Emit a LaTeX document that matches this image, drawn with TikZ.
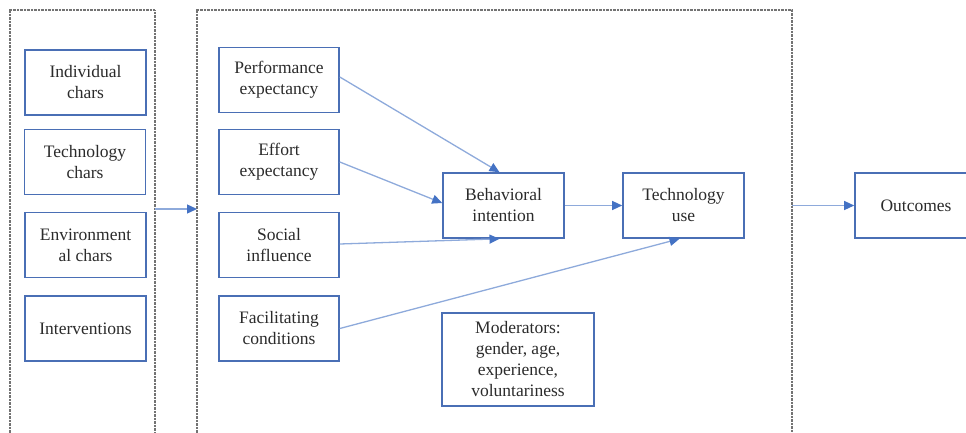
\documentclass[tikz,border=0pt]{standalone}
\usepackage{fontspec}
\setmainfont{Liberation Serif}
\usetikzlibrary{arrows.meta}
\definecolor{boxblue}{HTML}{4A6FB5}
\definecolor{lineblue}{HTML}{8EAADB}
\definecolor{headblue}{HTML}{4472C4}
\definecolor{txt}{HTML}{2B2B2B}
\begin{document}
\begin{tikzpicture}[x=1pt,y=-1pt,
  bx/.style={draw=boxblue,line width=1.6pt,rectangle,align=center,text=txt,
    minimum width=121pt,minimum height=65pt,inner sep=2pt,
    font=\fontsize{17.5}{21}\selectfont},
  frame/.style={draw=gray!90!black,line width=1.4pt,dash pattern=on 0.7pt off 0.7pt},
  arr/.style={draw=lineblue,line width=1.3pt,-{Triangle[length=10pt,width=9pt,color=headblue]}}]
\useasboundingbox (0,0) rectangle (966,433);
\begin{scope}
\clip (0,0) rectangle (966,433);
% frames
\draw[frame] (10,440) -- (10,10) -- (155,10) -- (155,440);
\draw[frame] (197,440) -- (197,10) -- (792,10) -- (792,440);
% left column
\node[bx] (ind) at (85.5,82.5) {Individual\\chars};
\node[bx] (tch) at (85,162) {Technology\\chars};
\node[bx] (env) at (85.5,245) {Environment\\al chars};
\node[bx] (itv) at (85.5,328.5) {Interventions};
% middle column
\node[bx,minimum width=120pt] (perf) at (279,80) {Performance\\expectancy};
\node[bx,minimum width=120pt] (eff) at (279,162) {Effort\\expectancy};
\node[bx,minimum width=120pt] (soc) at (279,245) {Social\\influence};
\node[bx,minimum width=120pt] (fac) at (279,328.5) {Facilitating\\conditions};
\node[bx] (bi) at (503.5,205.5) {Behavioral\\intention};
\node[bx] (tu) at (683.5,205.5) {Technology\\use};
\node[bx,minimum width=152pt,minimum height=93pt] (mod) at (518,359.5) {Moderators:\\gender, age,\\experience,\\voluntariness};
\node[bx,minimum width=122pt] (out) at (916,205.5) {Outcomes};
% connector anchors
\coordinate (lr) at (155,209);
\coordinate (ml) at (197,209);
\coordinate (mr) at (792,205.5);
\draw[arr] (lr) -- (ml);
\draw[arr] ([yshift=3pt]perf.east) -- ([xshift=-4pt]bi.north);
\draw[arr] (eff.east) -- ([yshift=2.5pt]bi.west);
\draw[arr] ([yshift=1pt]soc.east) -- ([xshift=-4pt]bi.south);
\draw[arr] (fac.east) -- ([xshift=-4pt]tu.south);
\draw[arr] (bi.east) -- (tu.west);
\draw[arr] (mr) -- (out.west);
\end{scope}
\end{tikzpicture}
\end{document}
